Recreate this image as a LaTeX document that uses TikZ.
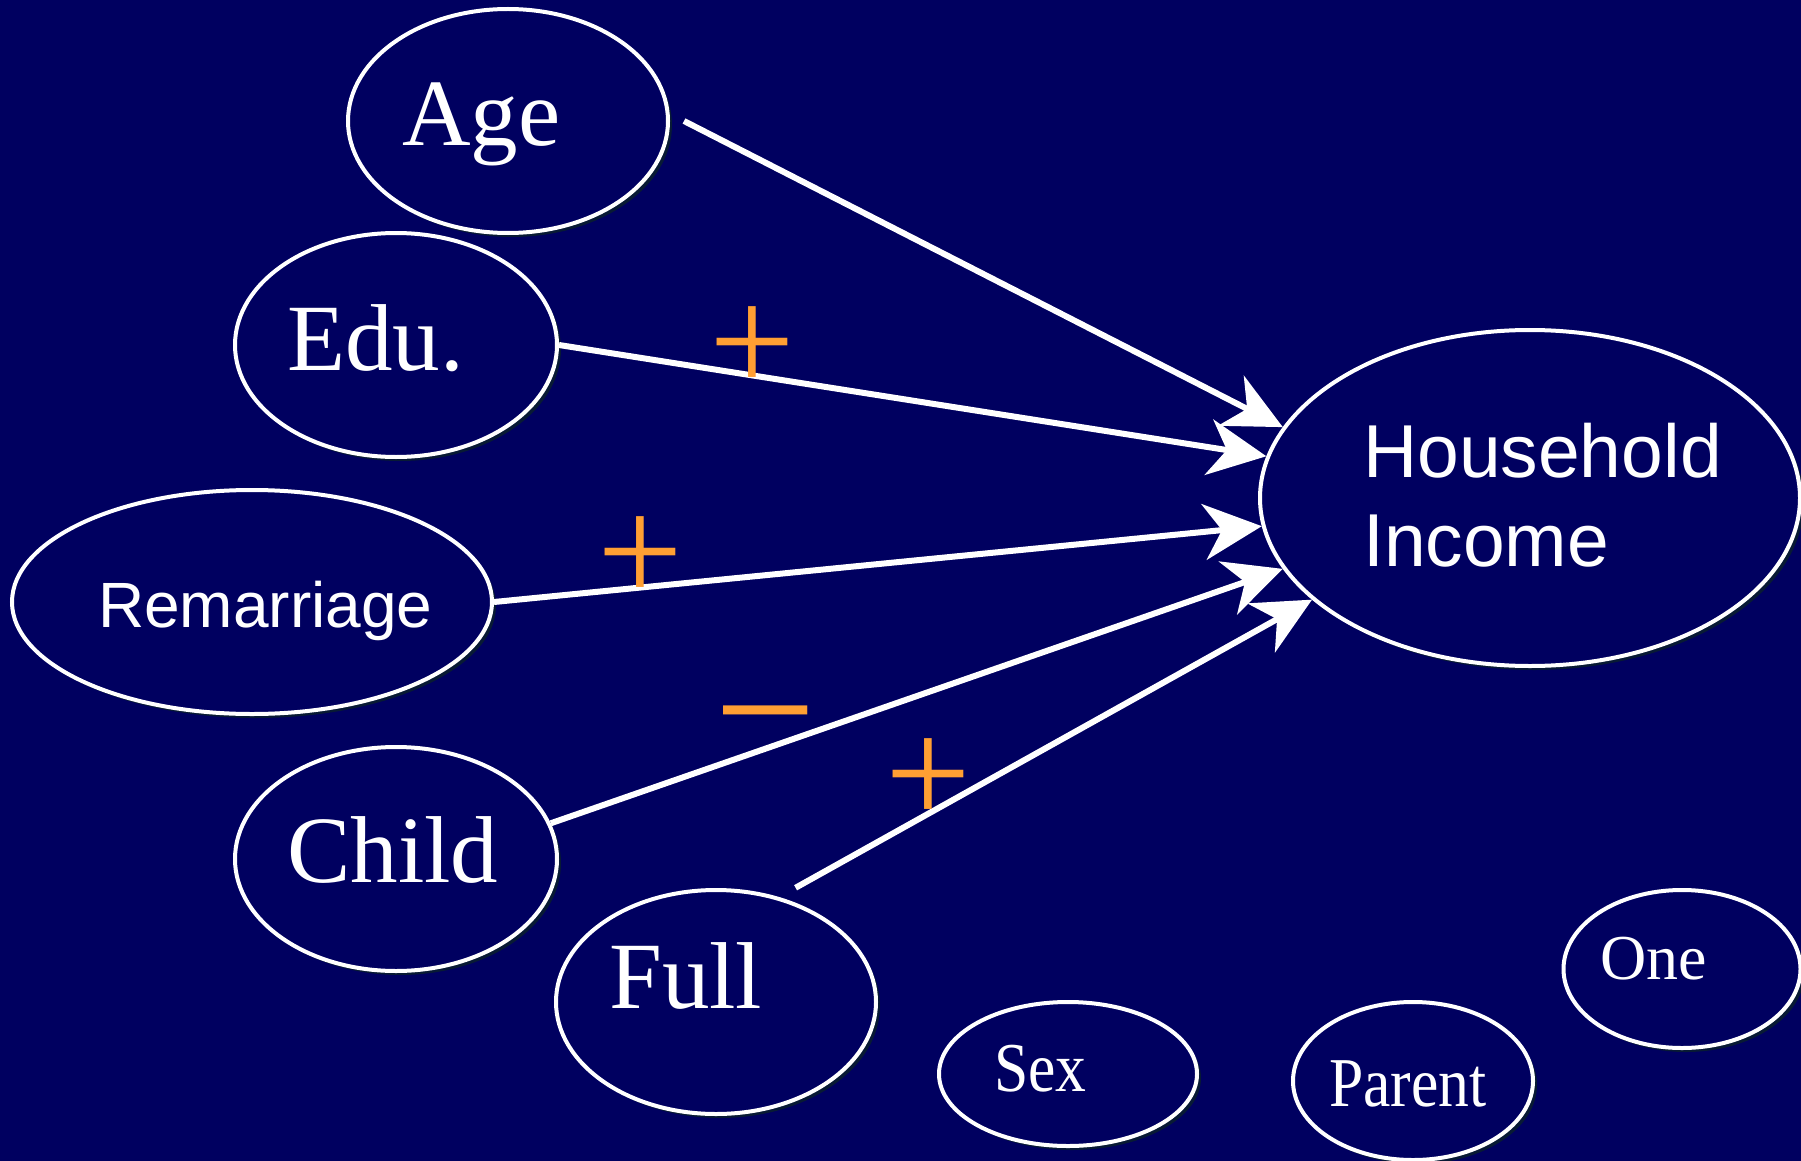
\documentclass[tikz,border=0pt]{standalone}
\usepackage{fontspec}
\setmainfont{Liberation Serif}
\newfontfamily\arialfont{Liberation Sans}
\usetikzlibrary{shapes.geometric,arrows.meta,shadows}

\definecolor{navy}{RGB}{0,0,96}
\definecolor{shadowblue}{RGB}{8,26,52}
\definecolor{signorange}{RGB}{255,159,51}

\newcommand{\bigserif}{\fontsize{95}{95}\selectfont}
\newcommand{\smallserif}{\fontsize{70}{70}\selectfont}

\tikzset{
	var/.style={ellipse, draw=white, line width=4pt, fill=navy, inner sep=0pt,
		drop shadow={shadow xshift=4pt, shadow yshift=-4pt, fill=shadowblue, opacity=1}},
	lbl/.style={text=white, inner sep=0pt, anchor=base west},
	arr/.style={draw=white, line width=6pt, -{Stealth[length=58pt, width=56pt, inset=18pt]}},
	sgn/.style={text=signorange, inner sep=0pt, anchor=base, font=\fontsize{152}{152}\selectfont}
}

\begin{document}
\begin{tikzpicture}[x=1pt, y=-1pt]
		\fill[navy] (0,0) rectangle (1801,1161);
		\useasboundingbox (0,0) rectangle (1801,1161);

		\draw (508,121) node [var, minimum width=320pt, minimum height=224pt] (age) {};
		\draw (396,345) node [var, minimum width=322pt, minimum height=224pt] (edu) {};
		\draw (252,602) node [var, minimum width=480pt, minimum height=224pt] (rem) {};
		\draw (396,859) node [var, minimum width=322pt, minimum height=224pt] (child) {};
		\draw (716,1002) node [var, minimum width=320pt, minimum height=224pt] (full) {};
		\draw (1068,1074) node [var, minimum width=258pt, minimum height=144pt] (sex) {};
		\draw (1413,1081) node [var, minimum width=240pt, minimum height=158pt] (parent) {};
		\draw (1682,969) node [var, minimum width=237pt, minimum height=158pt] (one) {};
		\draw (1530,498) node [var, minimum width=540pt, minimum height=336pt] (hi) {};

		\draw (402,146) node [lbl, font=\bigserif] (agetxt) {Age};
		\draw (287,370) node [lbl, font=\bigserif] (edutxt) {Edu.};
		\draw (98,627) node [lbl, font=\arialfont\fontsize{64}{64}\selectfont] (remtxt) {Remarriage};
		\draw (287,882) node [lbl, font=\bigserif] (childtxt) {Child};
		\draw (609,1008) node [lbl, font=\bigserif] (fulltxt) {Full};
		\draw (994,1091) node [lbl, font=\smallserif, xscale=0.88] (sextxt) {Sex};
		\draw (1329,1106) node [lbl, font=\smallserif, xscale=0.88] (parenttxt) {Parent};
		\draw (1600,979) node [lbl, font=\fontsize{64}{64}\selectfont] (onetxt) {One};
		\draw (1363,477) node [lbl, font=\arialfont\fontsize{75}{75}\selectfont] (hitxt1) {Household};
		\draw (1363,566) node [lbl, font=\arialfont\fontsize{75}{75}\selectfont] (hitxt2) {Income};

		\path
		([xshift=14pt]age.east) edge [arr] (hi.164)
		(edu.east) edge [arr] (hi.171)
		(rem.east) edge [arr] (hi.186)
		(child.13) edge [arr] (hi.196)
		([shift={(8pt,12pt)}]full.55) edge [arr] (hi.205);

		\draw (752,392) node [sgn] (edusign) {+};
		\draw (640,602) node [sgn] (remsign) {+};
		\draw (766,770) node [sgn, font=\fontsize{181}{181}\selectfont] (childsign) {−};
		\draw (928,824) node [sgn] (fullsign) {+};
	\end{tikzpicture}
\end{document}
